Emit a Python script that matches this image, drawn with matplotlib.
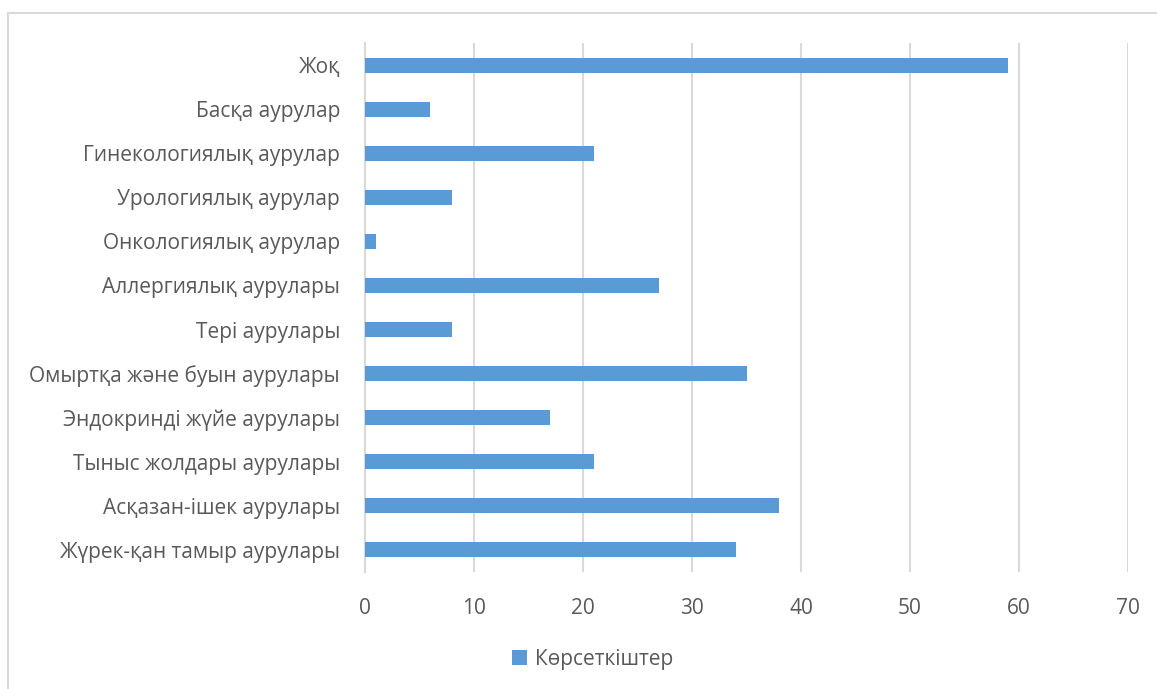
import matplotlib
matplotlib.use("Agg")
import matplotlib.pyplot as plt
from matplotlib.lines import Line2D
from matplotlib.patches import Patch

categories = [
    "Жүрек-қан тамыр аурулары",
    "Асқазан-ішек аурулары",
    "Тыныс жолдары аурулары",
    "Эндокринді жүйе аурулары",
    "Омыртқа және буын аурулары",
    "Тері аурулары",
    "Аллергиялық аурулары",
    "Онкологиялық аурулар",
    "Урологиялық аурулар",
    "Гинекологиялық аурулар",
    "Басқа аурулар",
    "Жоқ",
]
values = [34, 38, 21, 17, 35, 8, 27, 1, 8, 21, 6, 59]
series_name = "Көрсеткіштер"
xticks = [0, 10, 20, 30, 40, 50, 60, 70]

W, H = 1157, 689
fig = plt.figure(figsize=(W / 100, H / 100), dpi=100)
plt.rcParams['font.family'] = ['Open Sans', 'DejaVu Sans']
text_color = "#595959"
bar_color = "#5B9BD5"
grid_color = "#D9D9D9"
fs = 15

ax = fig.add_axes([365 / W, 1 - 572 / H, (1128 - 365) / W, (572 - 43) / H])
ypos = list(range(len(categories)))
ax.barh(ypos, values, height=0.34, color=bar_color, zorder=3)
ax.set_xlim(0, 70)
ax.set_ylim(-0.5, len(categories) - 0.5)
ax.set_xticks(xticks)
ax.set_xticklabels([str(t) for t in xticks])
ax.set_yticks(ypos)
ax.set_yticklabels(categories)
ax.tick_params(axis='both', length=0, colors=text_color, labelsize=fs)
ax.tick_params(axis='x', pad=18.5)
ax.tick_params(axis='y', pad=18)
ax.xaxis.grid(True, color=grid_color, linewidth=1.5, zorder=0)
for s in ["top", "right", "bottom"]:
    ax.spines[s].set_visible(False)
ax.spines["left"].set_color(grid_color)
ax.spines["left"].set_linewidth(1.5)

handles = [Patch(facecolor=bar_color, label=series_name)]
fig.legend(handles=handles, loc="center", bbox_to_anchor=(593 / W, 1 - 659 / H),
           frameon=False, fontsize=fs, labelcolor=text_color,
           handlelength=0.7, handleheight=0.7, handletextpad=0.4)

# outer chart border (cropped at right and bottom)
fig.add_artist(Line2D([8 / W, 1.0], [1 - 13 / H, 1 - 13 / H], color="#D9D9D9", linewidth=1.5))
fig.add_artist(Line2D([8 / W, 8 / W], [1 - 13 / H, 0], color="#D9D9D9", linewidth=1.5))

fig.savefig("out.png", dpi=100)
